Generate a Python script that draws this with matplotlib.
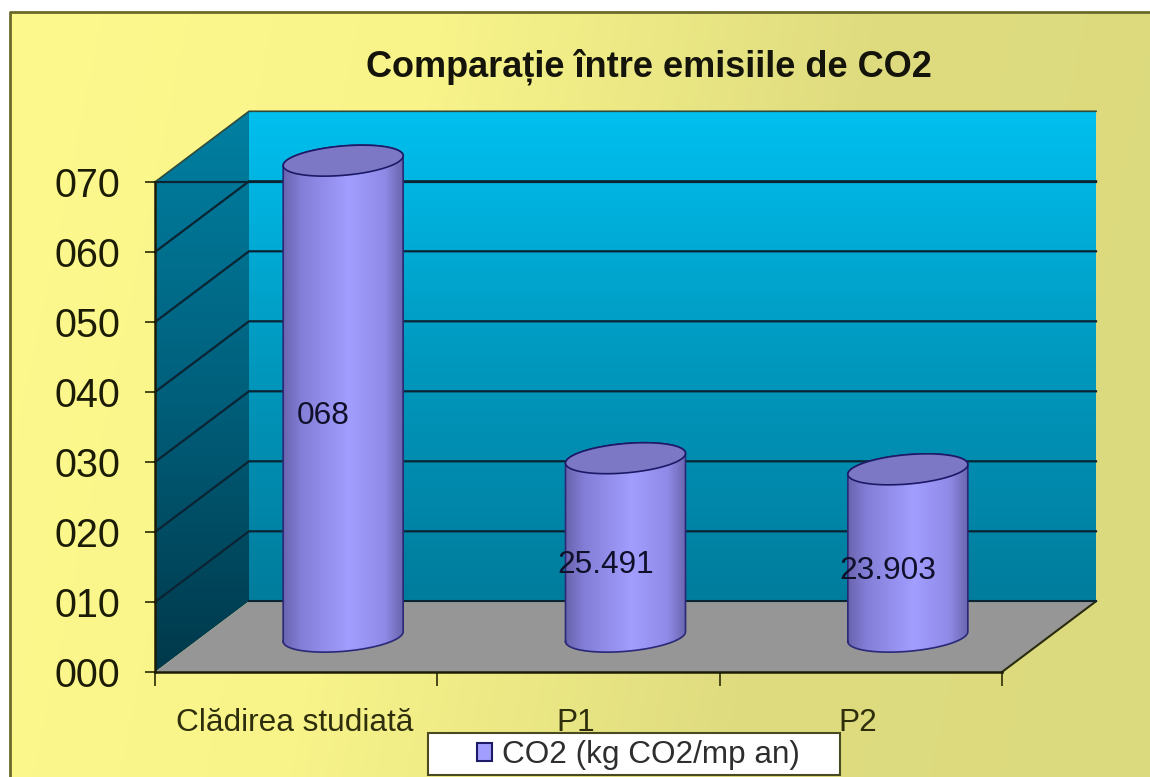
import numpy as np
import matplotlib
matplotlib.use('Agg')
import matplotlib.pyplot as plt
from matplotlib.colors import LinearSegmentedColormap
from matplotlib.patches import Polygon, Patch, Rectangle

# data
categories = ['Clădirea studiată', 'P1', 'P2']
co2_values = [68, 25.491, 23.903]
value_labels = ['068', '25.491', '23.903']
y_ticks = [0, 10, 20, 30, 40, 50, 60, 70]
y_tick_labels = ['000', '010', '020', '030', '040', '050', '060', '070']
title = 'Comparație între emisiile de CO2'
legend_label = 'CO2 (kg CO2/mp an)'

W, H = 1150, 777
plt.rcParams['font.family'] = ['Liberation Sans', 'DejaVu Sans']
text_col = '#1c1c06'
dark = '#0b2433'

# 3d depth of the box, in data units
dx = 0.333
dy = 10.1
# cylinder shape, in data units
rx = 0.2125
ry = 2.1
skew = 0.7

fig = plt.figure(figsize=(W / 100, H / 100), dpi=100, facecolor='white')

# slide background
bg = fig.add_axes([0, 0, 1, 1])
bg_cmap = LinearSegmentedColormap.from_list('bg', ['#fdf98d', '#f8f48a', '#dfdc80', '#dcda7e'])
xx, yy = np.meshgrid(np.linspace(0, 1, 300), np.linspace(0, 1, 200))
bg.imshow(xx * 0.88 + yy * 0.12, extent=[10, W, H, 12], cmap=bg_cmap, aspect='auto', vmin=0, vmax=1)
bg.plot([10, 10, W], [H, 12, 12], color='#6b6a2a', lw=2)
# legend box
bg.add_patch(Rectangle((428, 733), 412, 42, facecolor='white', edgecolor='#4a4a20', lw=1.5))
bg.set_xlim(0, W)
bg.set_ylim(H, 0)
bg.axis('off')

# main axes sit on the front plane of the box
ax = fig.add_axes([155 / W, 1 - 672 / H, (1002 - 155) / W, (672 - 182) / H])
ax.patch.set_visible(False)


def gradient(values, cmap, extent, clip, z):
    im = ax.imshow(values, cmap=cmap, extent=extent, aspect='auto', origin='lower',
                   vmin=0, vmax=1, zorder=z)
    im.set_clip_box(fig.bbox)
    im.set_clip_path(Polygon(clip, transform=ax.transData))
    return im


x0, x1 = -0.5, 2.5
y0, y1 = 0, 70

# back wall
wall_cmap = LinearSegmentedColormap.from_list('wall', ['#007c9c', '#0099bf', '#00c0f0'])
grad_v = np.linspace(0, 1, 256).reshape(-1, 1)
gradient(grad_v, wall_cmap, [x0 + dx, x1 + dx, y0 + dy, y1 + dy],
         [(x0 + dx, y0 + dy), (x1 + dx, y0 + dy), (x1 + dx, y1 + dy), (x0 + dx, y1 + dy)], 1)

# side wall
side_cmap = LinearSegmentedColormap.from_list('side', ['#00384a', '#00607c', '#0080a2'])
gradient(grad_v, side_cmap, [x0, x0 + dx, y0, y1 + dy],
         [(x0, y0), (x0 + dx, y0 + dy), (x0 + dx, y1 + dy), (x0, y1)], 2)

# floor
ax.add_patch(Polygon([(x0, y0), (x1, y0), (x1 + dx, y0 + dy), (x0 + dx, y0 + dy)],
                     facecolor='#969696', edgecolor='none', zorder=3, clip_on=False))
ax.plot([x1, x1 + dx], [y0, y0 + dy], color='#2a2a10', lw=1.5, zorder=3, clip_on=False)
ax.plot([x0 + dx, x1 + dx], [y0 + dy, y0 + dy], color=dark, lw=1.5, zorder=3, clip_on=False)

# gridlines on the walls
for t in y_ticks[1:-1]:
    ax.plot([x0, x0 + dx, x1 + dx], [t, t + dy, t + dy], color=dark, lw=1.6, zorder=4, clip_on=False)
ax.plot([x0 + dx, x1 + dx], [y1, y1], color=dark, lw=1.6, zorder=4, clip_on=False)
ax.plot([x0, x0 + dx], [y1, y1], color=dark, lw=1.6, zorder=4, clip_on=False)
ax.plot([x0, x0 + dx, x1 + dx], [y1, y1 + dy, y1 + dy], color='#2f4a3a', lw=1.2, zorder=4, clip_on=False)

# cylinders
body_cmap = LinearSegmentedColormap.from_list(
    'body', [(0, '#6a64ae'), (0.15, '#837ed6'), (0.55, '#a29eff'), (0.85, '#8f8ae6'), (1, '#6a66ae')])
grad_h = np.linspace(0, 1, 256).reshape(1, -1)
t_low = np.linspace(np.pi, 2 * np.pi, 80)
t_up = np.linspace(0, np.pi, 80)
t_all = np.linspace(0, 2 * np.pi, 160)
for i, v in enumerate(co2_values):
    cx = i + dx / 2
    base = dy / 2
    top = base + v
    lower = np.column_stack([cx + rx * np.cos(t_low), base + ry * np.sin(t_low) + skew * np.cos(t_low)])
    upper = np.column_stack([cx + rx * np.cos(t_up), top + ry * np.sin(t_up) + skew * np.cos(t_up)])
    outline = np.vstack([lower, upper])
    gradient(grad_h, body_cmap, [cx - rx, cx + rx, base - 5, top + 5], outline, 5)
    ax.plot(np.r_[outline[:, 0], outline[0, 0]], np.r_[outline[:, 1], outline[0, 1]],
            color='#2a2878', lw=1.2, zorder=6, clip_on=False)
    lid = np.column_stack([cx + rx * np.cos(t_all), top + ry * np.sin(t_all) + skew * np.cos(t_all)])
    ax.add_patch(Polygon(lid, facecolor='#7d78c6', edgecolor='#1c1a66', lw=1.2, zorder=7, clip_on=False))
    ax.text(i + 0.095, v / 2 + 2.5, value_labels[i], ha='center', va='center',
            fontsize=22.8, color='#10102a', zorder=8)

ax.set_xlim(x0, x1)
ax.set_ylim(y0, y1)

# axes, ticks
for s in ['top', 'right']:
    ax.spines[s].set_visible(False)
for s in ['left', 'bottom']:
    ax.spines[s].set_color('#1c1c06')
    ax.spines[s].set_linewidth(1.8)
    ax.spines[s].set_zorder(9)
ax.set_yticks(y_ticks)
ax.set_yticklabels(y_tick_labels, fontsize=28.5, color=text_col)
ax.tick_params(axis='y', length=7, width=1.3, color='#3a3a10', pad=18)
ax.set_xticks([-0.5, 0.5, 1.5, 2.5])
ax.set_xticklabels([])
ax.tick_params(axis='x', length=10, width=1.3, color='#3a3a10')
ax.set_xticks([-0.007, 0.99, 1.99], minor=True)
ax.set_xticklabels(categories, minor=True, fontsize=22.8, color='#2e2e0c')
ax.tick_params(axis='x', which='minor', length=0, pad=26)

fig.text(649 / W, 1 - 67 / H, title, ha='center', va='center', fontsize=26,
         fontweight='bold', color='#14140a')

# legend
fig.legend(handles=[Patch(facecolor='#a29eff', edgecolor='#1c1a66', lw=1.5, label=legend_label)],
           loc='center', bbox_to_anchor=(638.5 / W, 1 - 755 / H), fontsize=22.7, frameon=False,
           handlelength=0.48, handleheight=0.48, handletextpad=0.32, borderpad=0,
           borderaxespad=0, labelcolor='#2e2e30')

fig.savefig('out.png', dpi=100)
